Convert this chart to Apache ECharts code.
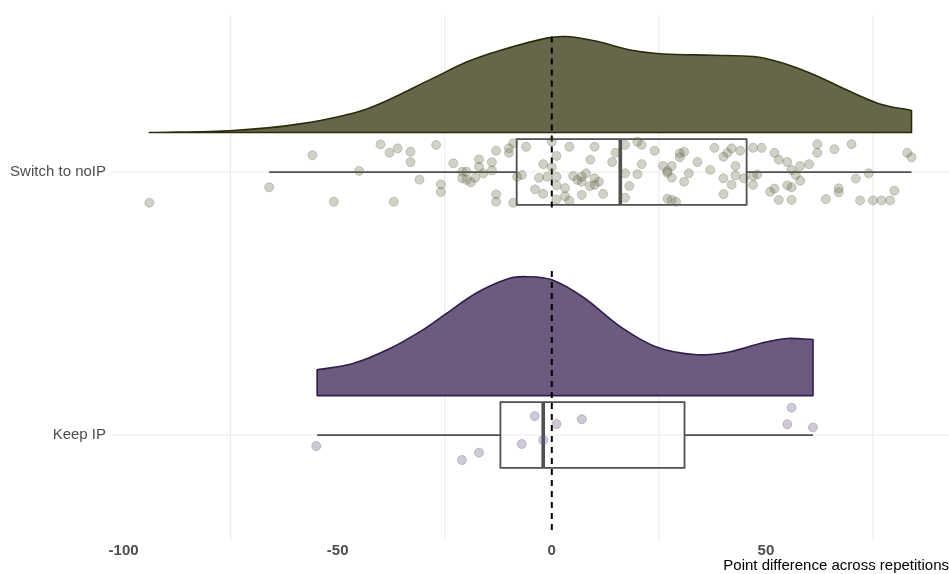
<!DOCTYPE html>
<html><head><meta charset="utf-8">
<script src="https://cdn.jsdelivr.net/npm/echarts@6/dist/echarts.min.js"></script>
<style>html,body{margin:0;padding:0;background:#fff}#c{width:949px;height:574px}</style>
</head><body><div id="c"></div>
<script>
// ---------- data ----------
const groupNames = ['Keep IP', 'Switch to noIP'];   // y positions 1 and 2
const xTickLabels = [-100, -50, 0, 50];
const xGridValues = [-75, -25, 25, 75];
const xTitle = 'Point difference across repetitions';

// box stats: [lowerWhisker, Q1, median, Q3, upperWhisker]
const switchBox = [-66.0, -8.2, 16.0, 45.5, 84.0];
const keepBox = [-54.8, -12.0, -2.0, 31.0, 61.0];

// density curve samples (x, height in y-axis units)
const switchDensX = [-94.0, -74.4, -58.8, -43.2, -27.7, -19.9, -12.1, -1.2, 3.5, 10.5, 18.3, 26.0, 37.7, 47.1, 53.3, 61.1, 68.9, 76.6, 84.0];
const switchDensH = [0.000, 0.008, 0.033, 0.090, 0.207, 0.268, 0.312, 0.359, 0.365, 0.347, 0.314, 0.299, 0.294, 0.289, 0.267, 0.221, 0.162, 0.109, 0.084];
const keepDensX = [-54.8, -46.6, -38.3, -30.0, -25.0, -17.5, -10.0, -5.8, 0.0, 7.5, 15.8, 24.1, 33.3, 40.8, 49.1, 54.9, 61.0];
const keepDensH = [0.098, 0.121, 0.175, 0.251, 0.308, 0.391, 0.445, 0.452, 0.440, 0.372, 0.264, 0.187, 0.156, 0.164, 0.200, 0.217, 0.213];

// jittered raw points: [value, vertical jitter]
const switchPoints = [[-94.0,-0.117],[-66.0,-0.058],[-55.9,0.064],[-40.0,0.105],[-37.9,0.073],[-36.0,0.090],[-33.0,0.077],[-33.0,0.038],[-27.0,0.103],[-45.0,0.004],
[-30.9,-0.029],[-50.9,-0.113],[-36.9,-0.113],[-25.9,-0.047],[-25.9,-0.076],[-23.0,0.033],[-20.9,0.001],[-19.9,0.001],[-20.9,-0.024],[-18.9,-0.039],
[-17.9,-0.022],[-16.0,-0.005],[-17.0,0.020],[-17.0,0.048],[-14.0,0.037],[-14.0,0.006],[-19.9,-0.030],[-13.0,0.081],[-13.0,-0.085],[-13.0,-0.113],
[-10.0,0.090],[-10.0,0.073],[-9.0,0.109],[-9.0,-0.117],[-8.1,-0.018],[-7.0,-0.011],[-6.0,0.096],[0.0,0.115],[-2.0,0.030],[0.0,0.018],
[1.1,0.061],[-3.0,-0.022],[-1.1,-0.018],[1.1,-0.018],[1.1,-0.051],[-3.9,-0.066],[-2.0,-0.083],[3.1,-0.061],[3.1,-0.092],[1.1,-0.104],
[4.1,-0.109],[4.1,0.096],[5.0,-0.015],[6.0,-0.030],[7.0,-0.037],[8.0,-0.005],[7.0,-0.018],[9.0,0.047],[10.0,0.096],[10.0,-0.024],
[11.0,-0.037],[10.0,-0.049],[8.9,-0.053],[7.0,-0.087],[12.0,-0.083],[14.1,0.038],[14.9,0.073],[17.1,0.103],[20.0,0.115],[21.0,0.103],
[24.0,0.081],[17.1,-0.005],[20.0,-0.008],[21.0,0.030],[18.1,-0.053],[17.1,-0.098],[26.0,0.023],[28.0,0.023],[27.0,0.004],[27.0,-0.003],
[28.0,-0.022],[29.9,0.071],[30.9,0.077],[29.9,0.056],[32.0,-0.005],[30.9,-0.037],[34.0,0.038],[27.0,-0.102],[28.0,-0.106],[29.0,-0.113],
[38.0,0.092],[40.1,0.058],[41.0,0.073],[42.0,0.090],[44.0,0.081],[37.0,0.008],[40.1,-0.024],[42.9,0.023],[42.9,-0.013],[42.0,-0.048],
[44.9,-0.024],[40.1,-0.084],[47.0,0.092],[49.0,0.092],[47.0,-0.015],[48.0,-0.009],[47.0,-0.049],[52.0,0.073],[53.0,0.047],[55.0,0.038],
[58.0,0.023],[60.1,0.030],[56.0,0.008],[57.0,-0.011],[58.0,-0.033],[51.0,-0.075],[52.0,-0.063],[55.0,-0.051],[56.0,-0.058],[53.0,-0.106],
[56.0,-0.106],[62.0,0.106],[62.0,0.073],[66.0,0.087],[70.0,0.106],[64.0,-0.103],[67.0,-0.062],[67.0,-0.077],[71.0,-0.025],[74.0,-0.005],
[72.0,-0.108],[75.0,-0.108],[77.0,-0.108],[79.0,-0.108],[80.0,-0.071],[83.0,0.073],[84.0,0.056]];
const keepPoints = [[-55.0,-0.042],[-21.0,-0.095],[-17.0,-0.067],[-7.0,-0.034],[-4.0,0.072],[-2.0,-0.019],[1.1,0.042],[7.0,0.060],[56.0,0.104],[55.0,0.041],[61.0,0.029]];

// ---------- layout / style constants ----------
const X_MIN = -102.94, X_MAX = 92.76, Y_MIN = 0.601, Y_MAX = 2.597;
const DENS_BASE = 0.15, BOX_HALF = 0.125;
const FONT = 'Liberation Sans, Arial, sans-serif';
const SW = {fill: '#66664a', line: '#2b2b0b', pt: 'rgba(102,102,74,0.30)'};
const KP = {fill: '#6c5b7f', line: '#2d1e4c', pt: 'rgba(108,91,127,0.33)'};
const BOX_COLOR = '#505050';
const GRID_COLOR = '#ebebeb';

// smooth curve through pixel points (cubic Hermite, handles uneven spacing)
function splinePath(pts) {
  const n = pts.length;
  const m = pts.map((p, i) => {
    const a = pts[Math.max(0, i - 1)], b = pts[Math.min(n - 1, i + 1)];
    return (b[1] - a[1]) / (b[0] - a[0]);
  });
  let d = 'M' + pts[0][0] + ',' + pts[0][1];
  for (let i = 0; i < n - 1; i++) {
    const p1 = pts[i], p2 = pts[i + 1], dx = (p2[0] - p1[0]) / 3;
    d += ' C' + (p1[0] + dx) + ',' + (p1[1] + m[i] * dx) + ' ' + (p2[0] - dx) + ',' + (p2[1] - m[i + 1] * dx) + ' ' + p2[0] + ',' + p2[1];
  }
  return d;
}

function densitySeries(xs, hs, gy, col) {
  return {
    type: 'custom', z: 2, silent: true,
    data: [[xs[0], gy]],
    renderItem: function (params, api) {
      const top = xs.map((x, i) => api.coord([x, gy + DENS_BASE + hs[i]]));
      const bl = api.coord([xs[0], gy + DENS_BASE]);
      const br = api.coord([xs[xs.length - 1], gy + DENS_BASE]);
      const d = splinePath(top) + ' L' + br[0] + ',' + br[1] + ' L' + bl[0] + ',' + bl[1] + ' Z';
      return {type: 'path', shape: {pathData: d}, style: {fill: col.fill, stroke: col.line, lineWidth: 1.6, lineJoin: 'round'}};
    }
  };
}

function boxSeries(stats, gy) {
  return {
    type: 'custom', z: 3, silent: true,
    data: [[gy].concat(stats)],
    encode: {x: [1, 2, 3, 4, 5], y: 0},
    renderItem: function (params, api) {
      const y = api.value(0);
      const lo = api.coord([api.value(1), y]), q1 = api.coord([api.value(2), y]);
      const md = api.coord([api.value(3), y]), q3 = api.coord([api.value(4), y]);
      const hi = api.coord([api.value(5), y]);
      const yt = api.coord([api.value(2), y + BOX_HALF])[1];
      const yb = api.coord([api.value(2), y - BOX_HALF])[1];
      const ls = {stroke: BOX_COLOR, lineWidth: 1.8};
      return {type: 'group', children: [
        {type: 'line', shape: {x1: lo[0], y1: lo[1], x2: q1[0], y2: q1[1]}, style: ls},
        {type: 'line', shape: {x1: q3[0], y1: q3[1], x2: hi[0], y2: hi[1]}, style: ls},
        {type: 'rect', shape: {x: q1[0], y: yt, width: q3[0] - q1[0], height: yb - yt}, style: {fill: 'none', stroke: BOX_COLOR, lineWidth: 1.8}},
        {type: 'line', shape: {x1: md[0], y1: yt, x2: md[0], y2: yb}, style: {stroke: BOX_COLOR, lineWidth: 3.6}}
      ]};
    }
  };
}

const refSegments = [[0, 1.865, 2.517], [0, 0.639, 1.635]];

const option = {
  animation: false,
  backgroundColor: '#ffffff',
  grid: {left: 111, right: 0, top: 15, bottom: 34, containLabel: false},
  title: {
    text: xTitle, right: 0, top: 558, padding: 0,
    textStyle: {fontFamily: FONT, fontSize: 15, fontWeight: 'normal', color: '#000000'}
  },
  xAxis: {
    type: 'value', min: X_MIN, max: X_MAX,
    axisLine: {show: false}, axisTick: {show: false}, splitLine: {show: false},
    axisLabel: {customValues: xTickLabels, fontFamily: FONT, fontSize: 15, fontWeight: 'bold', color: '#4d4d4d', margin: 3}
  },
  yAxis: {
    type: 'value', min: Y_MIN, max: Y_MAX,
    axisLine: {show: false}, axisTick: {show: false}, splitLine: {show: false},
    axisLabel: {customValues: [1, 2], formatter: v => groupNames[Math.round(v) - 1] || '', fontFamily: FONT, fontSize: 15, color: '#4d4d4d', margin: 5}
  },
  series: [
    {
      type: 'custom', z: 0, silent: true, data: [[0, 1]],
      renderItem: function (params, api) {
        const cs = params.coordSys;
        const kids = [];
        xGridValues.forEach(v => {
          const p = api.coord([v, 1]);
          kids.push({type: 'line', shape: {x1: p[0], y1: cs.y, x2: p[0], y2: cs.y + cs.height}, style: {stroke: GRID_COLOR, lineWidth: 1.1}});
        });
        [1, 2].forEach(v => {
          const p = api.coord([0, v]);
          kids.push({type: 'line', shape: {x1: cs.x, y1: p[1], x2: cs.x + cs.width, y2: p[1]}, style: {stroke: GRID_COLOR, lineWidth: 1.1}});
        });
        return {type: 'group', children: kids};
      }
    },
    densitySeries(switchDensX, switchDensH, 2, SW),
    densitySeries(keepDensX, keepDensH, 1, KP),
    boxSeries(switchBox, 2),
    boxSeries(keepBox, 1),
    {
      type: 'custom', z: 4, silent: true,
      data: refSegments,
      encode: {x: 0, y: [1, 2]},
      renderItem: function (params, api) {
        const a = api.coord([api.value(0), api.value(1)]);
        const b = api.coord([api.value(0), api.value(2)]);
        return {type: 'line', shape: {x1: a[0], y1: a[1], x2: b[0], y2: b[1]}, style: {stroke: '#000000', lineWidth: 2, lineDash: [6, 5]}};
      }
    },
    {
      type: 'scatter', z: 5, silent: true, symbolSize: 9,
      data: switchPoints.map(p => [p[0], 2 + p[1]]),
      itemStyle: {color: SW.pt, borderColor: SW.pt, borderWidth: 1, opacity: 1}
    },
    {
      type: 'scatter', z: 5, silent: true, symbolSize: 9,
      data: keepPoints.map(p => [p[0], 1 + p[1]]),
      itemStyle: {color: KP.pt, borderColor: KP.pt, borderWidth: 1, opacity: 1}
    }
  ]
};
const chart = echarts.init(document.getElementById('c'));
chart.setOption(option);
</script>
</body></html>
